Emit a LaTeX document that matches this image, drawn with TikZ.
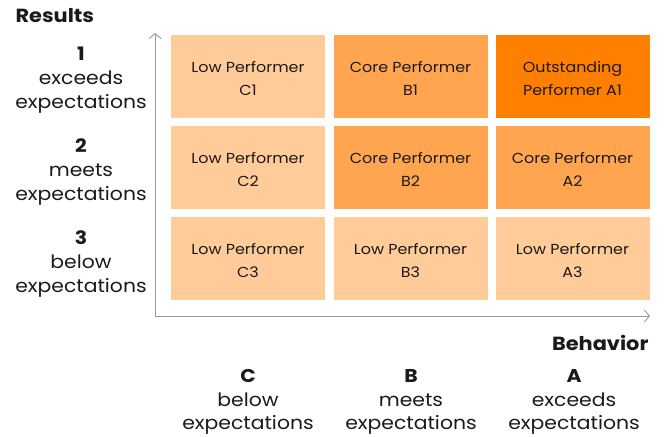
\documentclass[tikz,border=0pt]{standalone}
\usepackage{fontspec}
\setmainfont[FakeStretch=1.1]{Poppins}
\usetikzlibrary{arrows.meta}
\definecolor{light}{HTML}{FFCB98}
\definecolor{medium}{HTML}{FFA550}
\definecolor{dark}{HTML}{FF7F00}
\definecolor{axisgray}{HTML}{9A9A9A}
\definecolor{txt}{HTML}{1A1A1A}
\begin{document}
\begin{tikzpicture}[x=1pt,y=-1pt,
  cell/.style={minimum width=154pt,minimum height=83pt,inner sep=0pt,draw=none},
  celltxt/.style={text=txt,align=center,inner sep=0pt,yshift=-2pt,
    font=\fontsize{14.5}{23.3}\selectfont},
  lbl/.style={text=txt,align=center,font=\fontsize{18.5}{23.7}\selectfont},
  ttl/.style={text=txt,font=\bfseries\fontsize{19}{20}\selectfont},
  axis/.style={draw=axisgray,line width=0.9pt,-{Straight Barb[length=5pt,width=12pt]}}]
\useasboundingbox (0,0) rectangle (666,436);
% cells
\node[cell,fill=light,label={[celltxt]center:Low Performer\\C1}]  (c1) at (248,76.5) {};
\node[cell,fill=medium,label={[celltxt]center:Core Performer\\B1}] (b1) at (410.5,76.5) {};
\node[cell,fill=dark,label={[celltxt]center:Outstanding\\Performer A1}]   (a1) at (572.5,76.5) {};
\node[cell,fill=light,label={[celltxt]center:Low Performer\\C2}]  (c2) at (248,167.5) {};
\node[cell,fill=medium,label={[celltxt]center:Core Performer\\B2}] (b2) at (410.5,167.5) {};
\node[cell,fill=medium,label={[celltxt]center:Core Performer\\A2}] (a2) at (572.5,167.5) {};
\node[cell,fill=light,label={[celltxt]center:Low Performer\\C3}]  (c3) at (248,258.5) {};
\node[cell,fill=light,label={[celltxt]center:Low Performer\\B3}]  (b3) at (410.5,258.5) {};
\node[cell,fill=light,label={[celltxt]center:Low Performer\\A3}]  (a3) at (572.5,258.5) {};
% axes
\coordinate (o) at (155,316);
\coordinate (ytop) at (155,33);
\coordinate (xend) at (650,316);
\draw[axis] (o) -- (ytop);
\draw[axis] (o) -- (xend);
% titles
\node[ttl,anchor=west] (res) at (12,16) {Results};
\node[ttl,anchor=east] (beh) at (652,343) {Behavior};
% row labels
\node[lbl] (r1) at (81,80) {\textbf{1}\\exceeds\\expectations};
\node[lbl] (r2) at (81,172) {\textbf{2}\\meets\\expectations};
\node[lbl] (r3) at (81,264) {\textbf{3}\\below\\expectations};
% column labels
\node[lbl] (cc) at (248,402) {\textbf{C}\\below\\expectations};
\node[lbl] (cb) at (411,402) {\textbf{B}\\meets\\expectations};
\node[lbl] (ca) at (574,402) {\textbf{A}\\exceeds\\expectations};
\end{tikzpicture}
\end{document}
